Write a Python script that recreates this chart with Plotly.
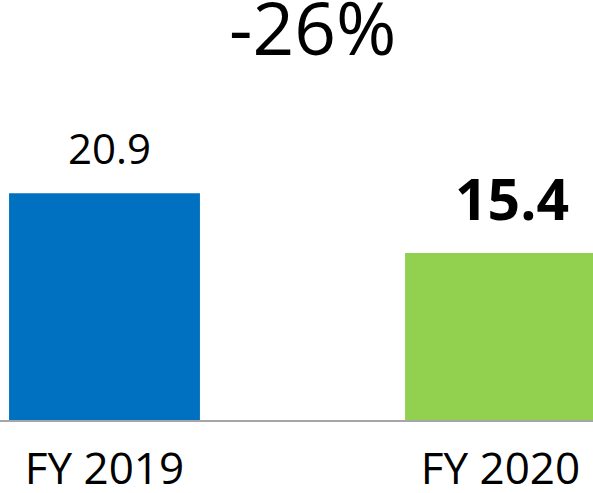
import plotly.graph_objects as go

# Fiscal-year comparison
categories = ["FY 2019", "FY 2020"]
values = [20.9, 15.4]
bar_colors = ["#0070C0", "#92D050"]
value_labels = ["20.9", "15.4"]
change_label = "-26%"

FONT = "Open Sans"

W, H = 593, 493
mb = 73
plot_h = H - mb
px_per_unit = 10.85
x0_px = 104.5
step_px = 396.0

fig = go.Figure(
    go.Bar(
        x=categories,
        y=values,
        marker=dict(color=bar_colors, line=dict(width=0)),
        width=0.482,
        hoverinfo="skip",
    )
)

# value labels above the bars
fig.add_annotation(
    x=categories[0], y=values[0], text=value_labels[0],
    xref="x", yref="y", showarrow=False, yanchor="bottom",
    xshift=5, yshift=15,
    font=dict(family=FONT, size=42, color="#000000"),
)
fig.add_annotation(
    x=categories[1], y=values[1], text="<b>" + value_labels[1] + "</b>",
    xref="x", yref="y", showarrow=False, yanchor="bottom",
    xshift=11, yshift=14,
    font=dict(family=FONT, size=57, color="#000000"),
)

# headline change figure
fig.add_annotation(
    x=312 / W, y=(H - 27 - mb) / plot_h, text=change_label,
    xref="paper", yref="paper", showarrow=False, yanchor="middle",
    font=dict(family=FONT, size=73, color="#000000"),
)

fig.update_layout(
    width=W, height=H,
    margin=dict(l=0, r=0, t=0, b=mb, pad=0),
    paper_bgcolor="white", plot_bgcolor="white",
    showlegend=False,
    xaxis=dict(
        type="category",
        automargin=False,
        range=[-x0_px / step_px, (W - x0_px) / step_px],
        showgrid=False, zeroline=False,
        showline=True, linecolor="#A6A6A6", linewidth=2,
        ticks="", ticklabelstandoff=9,
        tickfont=dict(family=FONT, size=44, color="#000000"),
    ),
    yaxis=dict(
        automargin=False,
        range=[0, plot_h / px_per_unit],
        visible=False, showgrid=False, zeroline=False,
    ),
)

fig.write_html("out.html")
